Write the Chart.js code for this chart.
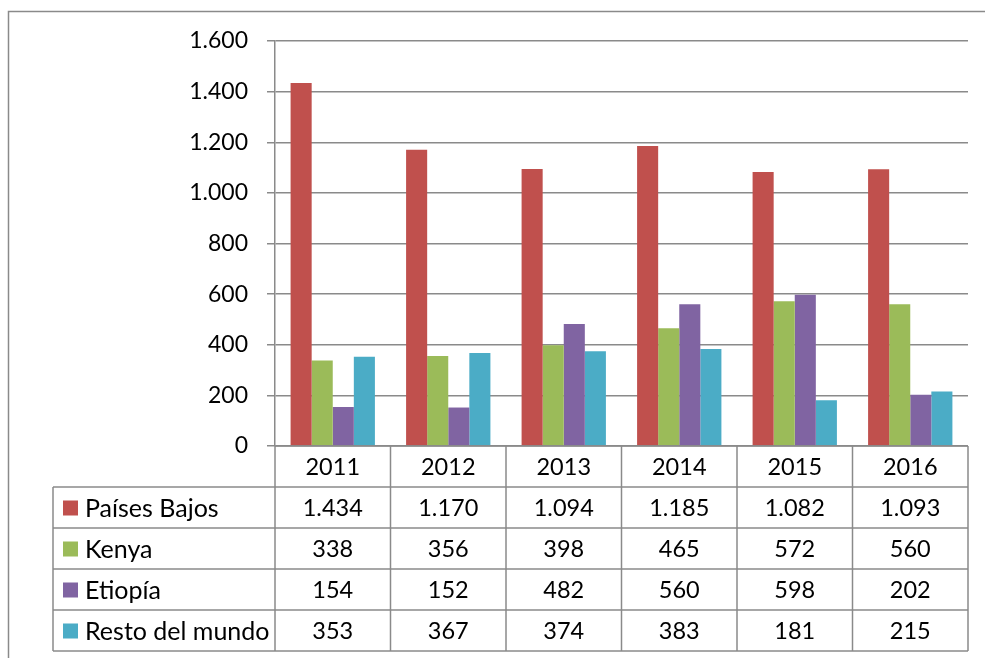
<!DOCTYPE html>
<html>
<head>
<meta charset="utf-8">
<script src="https://cdn.jsdelivr.net/npm/chart.js@4.4.1/dist/chart.umd.min.js"></script>
<style>
html, body { margin: 0; padding: 0; background: #fff; }
#wrap { width: 985px; height: 658px; }
</style>
</head>
<body>
<div id="wrap"><canvas id="chart"></canvas></div>
<script>
// data (table below the chart)
var years = ["2011", "2012", "2013", "2014", "2015", "2016"];
var seriesNames = ["Países Bajos", "Kenya", "Etiopía", "Resto del mundo"];
var paisesBajos = [1434, 1170, 1094, 1185, 1082, 1093];
var kenya = [338, 356, 398, 465, 572, 560];
var etiopia = [154, 152, 482, 560, 598, 202];
var restoMundo = [353, 367, 374, 383, 181, 215];
var yMin = 0, yMax = 1600, yStep = 200;

var colors = ["#C0504D", "#9BBB59", "#8064A2", "#4BACC6"];
var lineColor = "#8a8a8a";
var fontFamily = "Lato, 'Open Sans', sans-serif";

function fmt(v) {
    // spanish thousands separator
    return String(v).replace(/\B(?=(\d{3})+(?!\d))/g, ".");
}

var allSeries = [paisesBajos, kenya, etiopia, restoMundo];

var frameAndTable = {
    id: "frameAndTable",
    beforeDraw: function(chart) {
        var ctx = chart.ctx;
        ctx.save();
        ctx.strokeStyle = lineColor;
        ctx.lineWidth = 1.5;
        ctx.strokeRect(8.5, 11.5, 1100, 800);
        ctx.restore();
    },
    afterDraw: function(chart) {
        var ctx = chart.ctx;
        var xs = chart.scales.x;
        var area = chart.chartArea;
        var colW = (area.right - area.left) / years.length;
        var rowH = 41;
        var top = area.bottom;
        var legendLeft = 53;
        var nRows = allSeries.length;
        var bottom = top + rowH * (nRows + 1);

        ctx.save();
        ctx.strokeStyle = lineColor;
        ctx.lineWidth = 1.5;
        ctx.beginPath();
        ctx.moveTo(area.left, top);
        ctx.lineTo(area.right, top);
        for (var r = 1; r <= nRows + 1; r++) {
            ctx.moveTo(legendLeft, top + rowH * r);
            ctx.lineTo(area.right, top + rowH * r);
        }
        ctx.moveTo(legendLeft, top + rowH);
        ctx.lineTo(legendLeft, bottom);
        for (var c = 0; c <= years.length; c++) {
            var cx = area.left + colW * c;
            ctx.moveTo(cx, top);
            ctx.lineTo(cx, bottom);
        }
        ctx.stroke();

        ctx.fillStyle = "#000";
        ctx.font = "23.5px " + fontFamily;
        ctx.textBaseline = "middle";
        ctx.textAlign = "center";
        for (var i = 0; i < years.length; i++) {
            var px = xs.getPixelForValue(i);
            ctx.fillText(years[i], px, top + rowH / 2 + 1);
            for (var s = 0; s < nRows; s++) {
                ctx.fillText(fmt(allSeries[s][i]), px, top + rowH * (s + 1) + rowH / 2 + 1);
            }
        }
        ctx.textAlign = "left";
        ctx.font = "25px " + fontFamily;
        for (var s2 = 0; s2 < nRows; s2++) {
            var cy = top + rowH * (s2 + 1) + rowH / 2;
            ctx.fillStyle = colors[s2];
            ctx.fillRect(63, cy - 7, 15, 15);
            ctx.fillStyle = "#000";
            ctx.fillText(seriesNames[s2], 85, cy + 1);
        }
        ctx.restore();
    }
};

var datasets = allSeries.map(function(vals, k) {
    return {
        label: seriesNames[k],
        data: vals,
        backgroundColor: colors[k],
        borderWidth: 0
    };
});

new Chart(document.getElementById("chart"), {
    type: "bar",
    data: { labels: years, datasets: datasets },
    options: {
        responsive: true,
        maintainAspectRatio: false,
        animation: false,
        layout: { padding: { left: 0, top: 41, right: 17, bottom: 212 } },
        datasets: { bar: { categoryPercentage: 0.73, barPercentage: 1 } },
        plugins: {
            legend: { display: false },
            tooltip: { enabled: false }
        },
        scales: {
            x: { display: false },
            y: {
                min: yMin,
                max: yMax,
                afterFit: function(scale) { scale.width = 275; },
                ticks: {
                    stepSize: yStep,
                    color: "#000",
                    padding: 19,
                    font: { family: fontFamily, size: 23 },
                    callback: function(v) { return fmt(v); }
                },
                grid: {
                    color: lineColor,
                    lineWidth: 1.5,
                    drawTicks: true,
                    tickLength: 8
                },
                border: { display: true, color: lineColor, width: 1.5 }
            }
        }
    },
    plugins: [frameAndTable]
});
</script>
</body>
</html>
